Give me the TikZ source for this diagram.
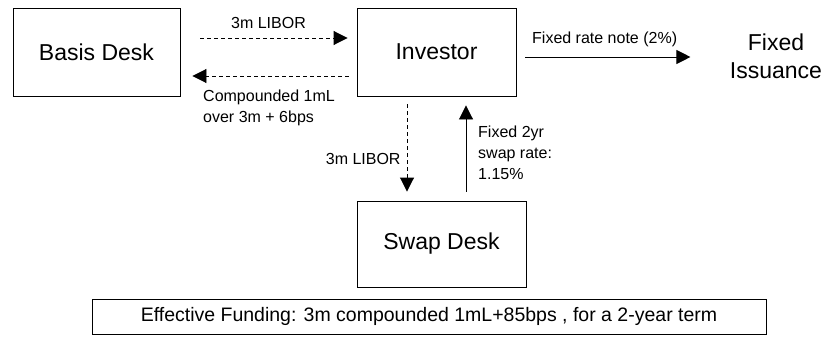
\documentclass[tikz,border=0pt]{standalone}
\usepackage{fontspec}
\setmainfont{Liberation Sans}
\usetikzlibrary{arrows.meta}

\tikzset{
  desk/.style={draw, line width=0.9pt, font=\fontsize{23}{26}\selectfont},
  note/.style={font=\fontsize{16}{21}\selectfont, inner sep=0pt, align=left},
  flowdash/.style={dashed, dash pattern=on 4pt off 3pt, line width=0.9pt, -{Triangle[length=14pt,width=14pt]}},
  flowline/.style={line width=0.9pt, -{Triangle[length=14pt,width=14pt]}}
}

\begin{document}
\begin{tikzpicture}[x=1pt, y=-1pt]
		\useasboundingbox (0,0) rectangle (832,337);
		% desks
		\node[desk, minimum width=167pt, minimum height=88pt] (basis) at (96.5,52) {Basis Desk};
		\node[desk, minimum width=159pt, minimum height=88pt] (investor) at (436.5,52) {Investor};
		\node[desk, minimum width=169pt, minimum height=86pt] (swap) at (441.5,244) {Swap Desk};
		\node[font=\fontsize{23}{28}\selectfont, align=center] (issuance) at (776,56) {Fixed\\Issuance};
		\node[draw, line width=0.9pt, minimum width=674pt, minimum height=35pt, font=\fontsize{19.5}{22}\selectfont] (funding) at (429,316.5) {Effective Funding: 3m compounded 1mL+85bps , for a 2-year term};

		% flows
		\draw[flowdash, shorten <=20pt, shorten >=9pt] ([yshift=14pt]basis.east) -- ([yshift=14pt]investor.west)
			node[note, midway, above=9pt] (libor1) {3m LIBOR};
		\draw[flowdash, shorten <=8pt, shorten >=12pt] ([yshift=-24pt]investor.west) -- ([yshift=-24pt]basis.east);
		\node[note, anchor=north west] (compounded) at (203,90) {Compounded 1mL\\over 3m + 6bps};
		\draw[flowline, shorten <=9pt, shorten >=36pt] ([yshift=-5pt]investor.east) -- ([yshift=-5pt]investor.east -| issuance.west)
			node[note, pos=0.42, above=10pt] (fixednote) {Fixed rate note (2\%)};
		\draw[flowdash, shorten <=8pt, shorten >=9pt] ([xshift=-29.5pt]investor.south) -- ([xshift=-29.5pt]investor.south |- swap.north)
			node[note, pos=0.6, left=6pt] (libor2) {3m LIBOR};
		\draw[flowline, shorten <=9pt, shorten >=9pt] ([xshift=24.5pt]swap.north) -- ([xshift=24.5pt]swap.north |- investor.south);
		\node[note, anchor=north west] (swaprate) at (478,126) {Fixed 2yr\\swap rate:\\1.15\%};
	\end{tikzpicture}
\end{document}
